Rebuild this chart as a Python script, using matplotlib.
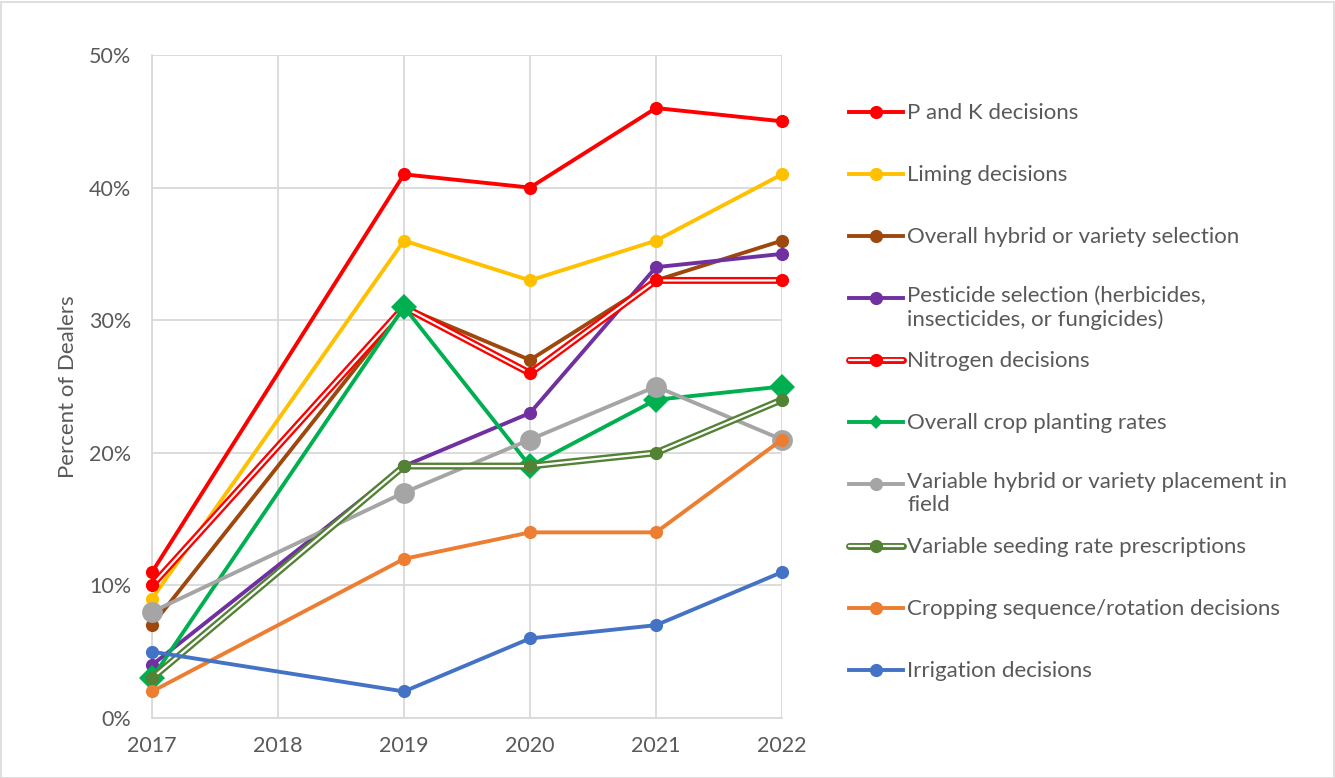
import matplotlib
matplotlib.use("Agg")
import matplotlib.pyplot as plt
from matplotlib.lines import Line2D
from matplotlib.patches import Rectangle
from matplotlib.ticker import FuncFormatter

plt.rcParams['font.family'] = ['Lato', 'DejaVu Sans']

years = [2017, 2019, 2020, 2021, 2022]

p_and_k = [11, 41, 40, 46, 45]
liming = [9, 36, 33, 36, 41]
hybrid_selection = [7, 31, 27, 33, 36]
pesticide = [4, 19, 23, 34, 35]
nitrogen = [10, 31, 26, 33, 33]
planting_rates = [3, 31, 19, 24, 25]
hybrid_placement = [8, 17, 21, 25, 21]
seeding_rx = [3, 19, 19, 20, 24]
cropping_seq = [2, 12, 14, 14, 21]
irrigation = [5, 2, 6, 7, 11]

labels = [
    "P and K decisions",
    "Liming decisions",
    "Overall hybrid or variety selection",
    "Pesticide selection (herbicides,\ninsecticides, or fungicides)",
    "Nitrogen decisions",
    "Overall crop planting rates",
    "Variable hybrid or variety placement in\nfield",
    "Variable seeding rate prescriptions",
    "Cropping sequence/rotation decisions",
    "Irrigation decisions",
]
values = [p_and_k, liming, hybrid_selection, pesticide, nitrogen,
          planting_rates, hybrid_placement, seeding_rx, cropping_seq, irrigation]
colors = ["#FF0000", "#FFC000", "#9E480E", "#7030A0", "#FF0000",
          "#00B050", "#A5A5A5", "#548235", "#ED7D31", "#4472C4"]
markers = ["o", "o", "o", "o", "o", "D", "o", "o", "o", "o"]
msizes = [9.5, 9.5, 9.5, 9.5, 9.5, 13, 15, 9.5, 9.5, 9.5]
double = [False, False, False, False, True, False, False, True, False, False]

TXT = "#595959"
W, H = 1335, 778
fig = plt.figure(figsize=(W / 100, H / 100), dpi=100)
ax = fig.add_axes([152 / W, 1 - 718 / H, (782 - 152) / W, (718 - 55) / H])

z = 3
for vals, c, m, ms, dbl in zip(values, colors, markers, msizes, double):
    if dbl:
        ax.plot(years, vals, color=c, lw=5.0, solid_joinstyle='round',
                clip_on=False, zorder=z)
        ax.plot(years, vals, color='white', lw=1.6, solid_joinstyle='round',
                clip_on=False, zorder=z + 0.1)
    else:
        ax.plot(years, vals, color=c, lw=2.8, solid_joinstyle='round',
                clip_on=False, zorder=z)
    ax.plot(years, vals, linestyle='none', marker=m, ms=ms, color=c,
            markeredgewidth=0, clip_on=False, zorder=z + 0.2)
    z += 1

ax.set_xlim(2017, 2022)
ax.set_ylim(0, 50)
ax.set_xticks(range(2017, 2023))
ax.set_yticks(range(0, 51, 10))
ax.yaxis.set_major_formatter(FuncFormatter(lambda v, _: f"{int(v)}%"))
ax.grid(True, color="#D9D9D9", lw=1.3, zorder=0)
ax.set_axisbelow(True)
for side in ("top", "right"):
    ax.spines[side].set_visible(False)
for side in ("left", "bottom"):
    ax.spines[side].set_color("#D9D9D9")
    ax.spines[side].set_linewidth(1.3)
ax.tick_params(length=0, labelsize=15.5, colors=TXT)
ax.tick_params(axis='y', pad=15)
ax.tick_params(axis='x', pad=13)
ax.set_ylabel("Percent of Dealers", fontsize=16, color=TXT, labelpad=8)

# legend drawn by hand, one entry every 62 px
leg_y0 = 112
for i, (lab, c, m, dbl) in enumerate(zip(labels, colors, markers, double)):
    yp = 1 - (leg_y0 + 62 * i) / H
    x0, x1 = 849 / W, 903 / W
    xm = (x0 + x1) / 2
    if dbl:
        fig.add_artist(Line2D([x0, x1], [yp, yp], color=c, lw=5.0, solid_capstyle='round'))
        fig.add_artist(Line2D([x0, x1], [yp, yp], color='white', lw=1.6, solid_capstyle='round'))
    else:
        fig.add_artist(Line2D([x0, x1], [yp, yp], color=c, lw=2.8))
    fig.add_artist(Line2D([xm], [yp], marker=m, ms=9.5 if m == "o" else 7,
                          color=c, markeredgewidth=0))
    if "\n" in lab:
        fig.text(907 / W, yp + 12 / H, lab, fontsize=16, color=TXT,
                 va='top', ha='left', linespacing=1.2)
    else:
        fig.text(907 / W, yp - 1 / H, lab, fontsize=16, color=TXT, va='center', ha='left')

fig.add_artist(Rectangle((0.5 / W, 0.5 / H), 1 - 2 / W, 1 - 2 / H,
                         fill=False, edgecolor="#D9D9D9", lw=1.2))

fig.savefig("out.png", dpi=100)
